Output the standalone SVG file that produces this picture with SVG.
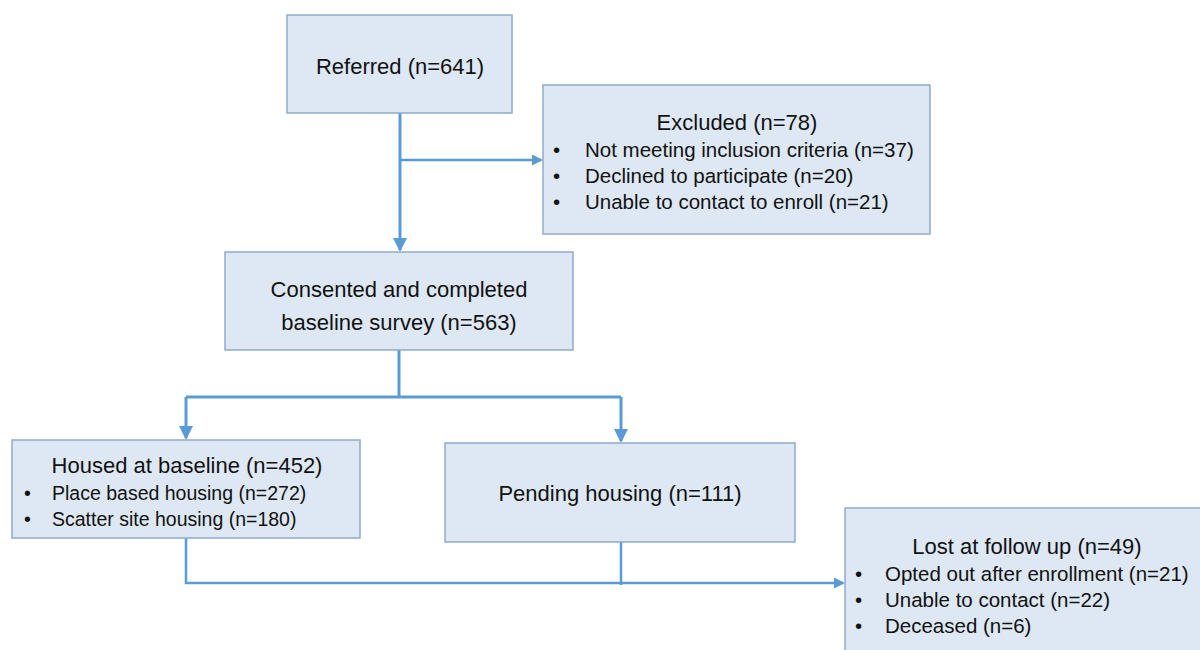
<svg xmlns="http://www.w3.org/2000/svg" width="1200" height="650" viewBox="0 0 1200 650">
<defs>
<style>
.box{fill:#dde8f4;stroke:#8eaacb;stroke-width:1.5}
.t{font-family:"Liberation Sans",Arial,sans-serif;font-size:22px;fill:#111}
.b{font-size:20.5px}
.s{font-size:19.5px}
.c{text-anchor:middle}
.ln{fill:none;stroke:#5b9bd5;stroke-width:3}
.ln2{fill:none;stroke:#5b9bd5;stroke-width:2.5}
</style>
<marker id="ah" markerWidth="11" markerHeight="11" refX="9" refY="5.5" orient="auto" markerUnits="userSpaceOnUse">
<path d="M0,0 L11,5.5 L0,11 Z" fill="#5b9bd5"/>
</marker>
<marker id="ahb" markerWidth="14" markerHeight="14" refX="12" refY="7" orient="auto" markerUnits="userSpaceOnUse">
<path d="M0,0 L14,7 L0,14 Z" fill="#5b9bd5"/>
</marker>
</defs>
<rect width="1200" height="650" fill="#ffffff"/>
<g id="connectors">
<path class="ln" d="M400,113 V250" marker-end="url(#ahb)"/>
<path class="ln2" d="M400,160 H541" marker-end="url(#ah)"/>
<path class="ln" d="M399,350 V397"/>
<path class="ln" d="M186,397 H621"/>
<path class="ln" d="M186,397 V438" marker-end="url(#ahb)"/>
<path class="ln" d="M621,397 V441" marker-end="url(#ahb)"/>
<path class="ln2" d="M186,538 V583 H843" marker-end="url(#ah)"/>
<path class="ln2" d="M621,542 V585"/>
</g>
<g id="referred">
<rect class="box" x="287" y="15" width="225" height="98"/>
<text class="t c" x="400" y="74">Referred (n=641)</text>
</g>
<g id="excluded">
<rect class="box" x="543" y="85" width="387" height="149"/>
<text class="t c" x="737" y="130">Excluded (n=78)</text>
<text class="t b" x="553" y="157">•</text>
<text class="t b" x="585" y="157">Not meeting inclusion criteria (n=37)</text>
<text class="t b" x="553" y="183">•</text>
<text class="t b" x="585" y="183">Declined to participate (n=20)</text>
<text class="t b" x="553" y="209">•</text>
<text class="t b" x="585" y="209">Unable to contact to enroll (n=21)</text>
</g>
<g id="consented">
<rect class="box" x="225" y="252" width="348" height="98"/>
<text class="t c" x="399" y="297">Consented and completed</text>
<text class="t c" x="399" y="330">baseline survey (n=563)</text>
</g>
<g id="housed">
<rect class="box" x="12" y="440" width="348" height="98"/>
<text class="t c" x="187" y="473">Housed at baseline (n=452)</text>
<text class="t s" x="24" y="500">•</text>
<text class="t s" x="52" y="500">Place based housing (n=272)</text>
<text class="t s" x="24" y="526">•</text>
<text class="t s" x="52" y="526">Scatter site housing (n=180)</text>
</g>
<g id="pending">
<rect class="box" x="445" y="443" width="350" height="99"/>
<text class="t c" x="620" y="501">Pending housing (n=111)</text>
</g>
<g id="lost">
<rect class="box" x="845" y="508" width="360" height="150"/>
<text class="t c" x="1027" y="554">Lost at follow up (n=49)</text>
<text class="t b" x="855" y="581">•</text>
<text class="t b" x="885" y="581">Opted out after enrollment (n=21)</text>
<text class="t b" x="855" y="607">•</text>
<text class="t b" x="885" y="607">Unable to contact (n=22)</text>
<text class="t b" x="855" y="633">•</text>
<text class="t b" x="885" y="633">Deceased (n=6)</text>
</g>
</svg>
